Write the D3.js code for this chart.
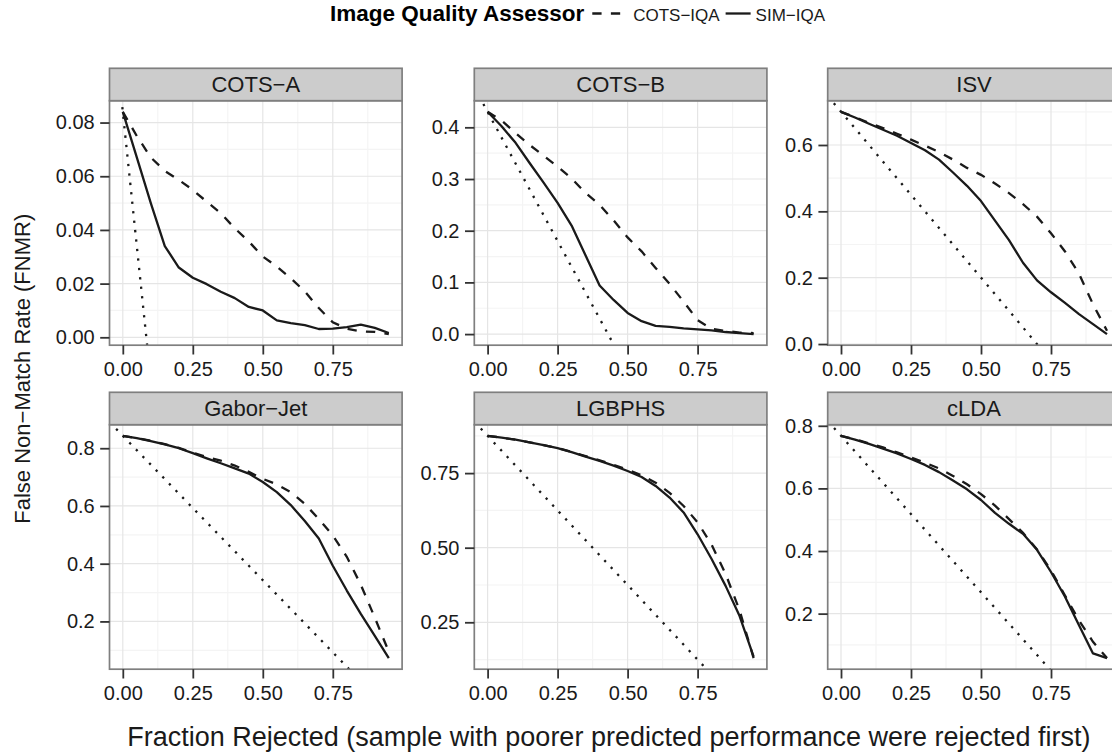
<!DOCTYPE html>
<html>
<head>
<meta charset="utf-8">
<script src="https://cdn.jsdelivr.net/npm/d3@7"></script>
<style>
  html, body { margin: 0; padding: 0; background: #ffffff; overflow: hidden; }
  svg { display: block; font-family: "Liberation Sans", Arial, Helvetica, sans-serif; }
</style>
</head>
<body>
<svg id="chart" width="1112" height="756"></svg>
<script>
// ---- data ---------------------------------------------------------------
const fractionRejected = [0, 0.05, 0.10, 0.15, 0.20, 0.25, 0.30, 0.35, 0.40, 0.45,
                          0.50, 0.55, 0.60, 0.65, 0.70, 0.75, 0.80, 0.85, 0.90, 0.95];

const panelNames = ["COTS\u2212A", "COTS\u2212B", "ISV", "Gabor\u2212Jet", "LGBPHS", "cLDA"];
const assessorNames = ["COTS\u2212IQA", "SIM\u2212IQA"];

// FNMR per fraction rejected, one array per matcher and quality assessor
const cotsA_cotsIqa = [0.084, 0.075, 0.067, 0.062, 0.0586, 0.0549, 0.0505, 0.0462, 0.0406, 0.0357,
                       0.0301, 0.0264, 0.0220, 0.0171, 0.0109, 0.0056, 0.0032, 0.0022, 0.0020, 0.0012];
const cotsA_simIqa  = [0.084, 0.067, 0.050, 0.034, 0.026, 0.0222, 0.0198, 0.0170, 0.0146, 0.0113,
                       0.0100, 0.0063, 0.0053, 0.0045, 0.0031, 0.0032, 0.0038, 0.0047, 0.0035, 0.0016];

const cotsB_cotsIqa = [0.430, 0.413, 0.389, 0.366, 0.345, 0.324, 0.301, 0.273, 0.250, 0.220,
                       0.187, 0.160, 0.128, 0.097, 0.063, 0.027, 0.010, 0.006, 0.003, 0.002];
const cotsB_simIqa  = [0.430, 0.402, 0.370, 0.331, 0.293, 0.254, 0.210, 0.152, 0.094, 0.066,
                       0.041, 0.025, 0.016, 0.014, 0.011, 0.009, 0.007, 0.004, 0.002, 0.000];

const isv_cotsIqa   = [0.700, 0.684, 0.667, 0.651, 0.634, 0.616, 0.598, 0.579, 0.556, 0.531,
                       0.510, 0.484, 0.455, 0.422, 0.384, 0.334, 0.279, 0.212, 0.120, 0.040];
const isv_simIqa    = [0.700, 0.683, 0.664, 0.646, 0.628, 0.606, 0.584, 0.556, 0.517, 0.477,
                       0.431, 0.372, 0.313, 0.245, 0.192, 0.156, 0.124, 0.090, 0.060, 0.030];

const gabor_cotsIqa = [0.843, 0.835, 0.826, 0.814, 0.801, 0.785, 0.769, 0.757, 0.740, 0.718,
                       0.694, 0.675, 0.648, 0.607, 0.555, 0.498, 0.424, 0.327, 0.213, 0.095];
const gabor_simIqa  = [0.843, 0.835, 0.825, 0.813, 0.800, 0.783, 0.765, 0.748, 0.730, 0.712,
                       0.683, 0.648, 0.603, 0.548, 0.487, 0.393, 0.307, 0.226, 0.150, 0.073];

const lgbphs_cotsIqa = [0.875, 0.869, 0.862, 0.853, 0.844, 0.834, 0.821, 0.807, 0.793, 0.778,
                        0.761, 0.743, 0.718, 0.684, 0.640, 0.585, 0.510, 0.412, 0.290, 0.130];
const lgbphs_simIqa  = [0.875, 0.869, 0.862, 0.853, 0.844, 0.834, 0.820, 0.805, 0.791, 0.775,
                        0.757, 0.737, 0.707, 0.668, 0.618, 0.545, 0.462, 0.372, 0.271, 0.135];

const clda_cotsIqa  = [0.768, 0.757, 0.744, 0.731, 0.715, 0.699, 0.682, 0.664, 0.640, 0.613,
                       0.582, 0.545, 0.502, 0.458, 0.405, 0.338, 0.258, 0.178, 0.110, 0.058];
const clda_simIqa   = [0.768, 0.756, 0.742, 0.727, 0.712, 0.694, 0.675, 0.652, 0.625, 0.597,
                       0.563, 0.522, 0.487, 0.455, 0.404, 0.333, 0.254, 0.163, 0.073, 0.058];

// axis breaks and their labels
const xTicks = [0, 0.25, 0.5, 0.75];
const xTickLabels = ["0.00", "0.25", "0.50", "0.75"];

const yTicksCotsA = [0, 0.02, 0.04, 0.06, 0.08];
const yLabelsCotsA = ["0.00", "0.02", "0.04", "0.06", "0.08"];
const yTicksCotsB = [0, 0.1, 0.2, 0.3, 0.4];
const yLabelsCotsB = ["0.0", "0.1", "0.2", "0.3", "0.4"];
const yTicksIsv = [0, 0.2, 0.4, 0.6];
const yLabelsIsv = ["0.0", "0.2", "0.4", "0.6"];
const yTicksGabor = [0.2, 0.4, 0.6, 0.8];
const yLabelsGabor = ["0.2", "0.4", "0.6", "0.8"];
const yTicksLgbphs = [0.25, 0.5, 0.75];
const yLabelsLgbphs = ["0.25", "0.50", "0.75"];
const yTicksClda = [0.2, 0.4, 0.6, 0.8];
const yLabelsClda = ["0.2", "0.4", "0.6", "0.8"];

const legendTitle = "Image Quality Assessor";
const xAxisTitle = "Fraction Rejected (sample with poorer predicted performance were rejected first)";
const yAxisTitle = "False Non\u2212Match Rate (FNMR)";

// ---- panel table ----------------------------------------------------------
const panels = [
  { name: panelNames[0], cots: cotsA_cotsIqa,  sim: cotsA_simIqa,  yTicks: yTicksCotsA,  yLabels: yLabelsCotsA },
  { name: panelNames[1], cots: cotsB_cotsIqa,  sim: cotsB_simIqa,  yTicks: yTicksCotsB,  yLabels: yLabelsCotsB },
  { name: panelNames[2], cots: isv_cotsIqa,    sim: isv_simIqa,    yTicks: yTicksIsv,    yLabels: yLabelsIsv },
  { name: panelNames[3], cots: gabor_cotsIqa,  sim: gabor_simIqa,  yTicks: yTicksGabor,  yLabels: yLabelsGabor },
  { name: panelNames[4], cots: lgbphs_cotsIqa, sim: lgbphs_simIqa, yTicks: yTicksLgbphs, yLabels: yLabelsLgbphs },
  { name: panelNames[5], cots: clda_cotsIqa,   sim: clda_simIqa,   yTicks: yTicksClda,   yLabels: yLabelsClda }
];

// ---- layout & style -----------------------------------------------------------
const colLeft = [109.5, 474.3, 827.7];
const rowTop = [68.3, 392.3];
const panelW = 292.6, stripH = 32.4, panelH = 244.5;

const ink = "#1a1a1a";
const borderCol = "#7f7f7f";
const stripFill = "#cccccc";
const majorGrid = "#e5e5e5";
const minorGrid = "#f4f4f4";
const lineW = 2.3;
const dashPattern = "9.3,9.3";
const dotPattern = "2.3,7.2";

const svg = d3.select("#chart");
const defs = svg.append("defs");

function expand(lo, hi) {
  const pad = (hi - lo) * 0.05;
  return [lo - pad, hi + pad];
}

function minorBreaks(ticks, domain) {
  const out = [];
  const step = ticks.length > 1 ? ticks[1] - ticks[0] : 0;
  for (let i = 0; i < ticks.length - 1; i++) out.push((ticks[i] + ticks[i + 1]) / 2);
  const lo = ticks[0] - step / 2, hi = ticks[ticks.length - 1] + step / 2;
  if (lo >= domain[0]) out.unshift(lo);
  if (hi <= domain[1]) out.push(hi);
  return out;
}

const xDomain = expand(d3.min(fractionRejected), d3.max(fractionRejected));

panels.forEach((p, i) => {
  const col = i % 3, row = Math.floor(i / 3);
  const left = colLeft[col];
  const stripTop = rowTop[row];
  const top = stripTop + stripH;
  const bottom = top + panelH;

  const allVals = p.cots.concat(p.sim);
  const yDomain = expand(d3.min(allVals), d3.max(allVals));

  const x = d3.scaleLinear().domain(xDomain).range([left, left + panelW]);
  const y = d3.scaleLinear().domain(yDomain).range([bottom, top]);

  const g = svg.append("g").attr("class", "panel");

  // panel background
  g.append("rect")
    .attr("x", left).attr("y", top).attr("width", panelW).attr("height", panelH)
    .attr("fill", "#ffffff");

  // grid lines
  const grid = g.append("g").attr("fill", "none");
  grid.selectAll("line.minx").data(minorBreaks(xTicks, xDomain)).join("line")
    .attr("x1", d => x(d)).attr("x2", d => x(d)).attr("y1", top).attr("y2", bottom)
    .attr("stroke", minorGrid).attr("stroke-width", 1.2);
  grid.selectAll("line.miny").data(minorBreaks(p.yTicks, yDomain)).join("line")
    .attr("x1", left).attr("x2", left + panelW).attr("y1", d => y(d)).attr("y2", d => y(d))
    .attr("stroke", minorGrid).attr("stroke-width", 1.2);
  grid.selectAll("line.majx").data(xTicks).join("line")
    .attr("x1", d => x(d)).attr("x2", d => x(d)).attr("y1", top).attr("y2", bottom)
    .attr("stroke", majorGrid).attr("stroke-width", 1.2);
  grid.selectAll("line.majy").data(p.yTicks).join("line")
    .attr("x1", left).attr("x2", left + panelW).attr("y1", d => y(d)).attr("y2", d => y(d))
    .attr("stroke", majorGrid).attr("stroke-width", 1.2);

  // clip to the panel
  const clipId = "clip" + i;
  defs.append("clipPath").attr("id", clipId)
    .append("rect").attr("x", left).attr("y", top).attr("width", panelW).attr("height", panelH);
  const plot = g.append("g").attr("clip-path", `url(#${clipId})`);

  // reference: perfect rejection, slope -1 from the starting FNMR
  const f0 = p.sim[0];
  plot.append("line")
    .attr("x1", x(xDomain[0])).attr("y1", y(f0 - xDomain[0]))
    .attr("x2", x(xDomain[1])).attr("y2", y(f0 - xDomain[1]))
    .attr("stroke", ink).attr("stroke-width", lineW)
    .attr("stroke-dasharray", dotPattern);

  const line = d3.line()
    .x((d, k) => x(fractionRejected[k]))
    .y(d => y(d));

  plot.append("path").datum(p.cots)
    .attr("d", line).attr("fill", "none")
    .attr("stroke", ink).attr("stroke-width", lineW)
    .attr("stroke-dasharray", dashPattern);
  plot.append("path").datum(p.sim)
    .attr("d", line).attr("fill", "none")
    .attr("stroke", ink).attr("stroke-width", lineW)
    .attr("stroke-linejoin", "round");

  // panel border
  g.append("rect")
    .attr("x", left).attr("y", top).attr("width", panelW).attr("height", panelH)
    .attr("fill", "none").attr("stroke", borderCol).attr("stroke-width", 1.7);

  // strip
  g.append("rect")
    .attr("x", left).attr("y", stripTop).attr("width", panelW).attr("height", stripH)
    .attr("fill", stripFill).attr("stroke", borderCol).attr("stroke-width", 1.7);
  g.append("text")
    .attr("x", left + panelW / 2).attr("y", stripTop + stripH / 2 + 7.8)
    .attr("text-anchor", "middle")
    .attr("font-size", 22).attr("fill", ink)
    .text(p.name);

  // axes
  const yAxis = d3.axisLeft(y)
    .tickValues(p.yTicks)
    .tickFormat((d, k) => p.yLabels[k])
    .tickSize(9.3).tickSizeOuter(0).tickPadding(5.5);
  const ya = g.append("g").attr("transform", `translate(${left},0)`).call(yAxis);

  const xAxis = d3.axisBottom(x)
    .tickValues(xTicks)
    .tickFormat((d, k) => xTickLabels[k])
    .tickSize(9.3).tickSizeOuter(0).tickPadding(7);
  const xa = g.append("g").attr("transform", `translate(0,${bottom})`).call(xAxis);

  [ya, xa].forEach(a => {
    a.select(".domain").remove();
    a.selectAll(".tick line").attr("stroke", "#333333").attr("stroke-width", 1.8);
    a.selectAll(".tick text")
      .attr("fill", ink)
      .style("font-size", "20px")
      .style("font-family", '"Liberation Sans", Arial, Helvetica, sans-serif');
  });
});

// ---- axis titles ------------------------------------------------------------------
const plotLeft = colLeft[0];
const plotRight = colLeft[2] + panelW;
const plotTop = rowTop[0];
const plotBottom = rowTop[1] + stripH + panelH;

svg.append("text")
  .attr("x", (plotLeft + plotRight) / 2 - 6).attr("y", 746)
  .attr("text-anchor", "middle").attr("font-size", 27).attr("fill", ink)
  .text(xAxisTitle);

svg.append("text")
  .attr("transform", `translate(30,${(plotTop + plotBottom) / 2}) rotate(-90)`)
  .attr("text-anchor", "middle").attr("font-size", 22).attr("fill", ink)
  .text(yAxisTitle);

// ---- legend ------------------------------------------------------------------------
const legend = svg.append("g").attr("class", "legend");
const legendBase = 20.5, legendMid = 13.5;
let cursor = 330;

const titleText = legend.append("text")
  .attr("x", cursor).attr("y", legendBase)
  .attr("font-size", 22.5).attr("font-weight", "bold").attr("fill", "#000")
  .text(legendTitle);
cursor += titleText.node().getComputedTextLength() + 8;

const keyStyles = [dashPattern, null];
const keyLens = [27.9, 25];
assessorNames.forEach((name, k) => {
  const key = legend.append("line")
    .attr("x1", cursor).attr("x2", cursor + keyLens[k])
    .attr("y1", legendMid).attr("y2", legendMid)
    .attr("stroke", ink).attr("stroke-width", lineW);
  if (keyStyles[k]) key.attr("stroke-dasharray", keyStyles[k]);
  cursor += keyLens[k] + (k === 0 ? 13 : 5);
  const t = legend.append("text")
    .attr("x", cursor).attr("y", legendBase)
    .attr("font-size", 17).attr("fill", ink)
    .text(name);
  cursor += t.node().getComputedTextLength() + 6;
});
</script>
</body>
</html>
